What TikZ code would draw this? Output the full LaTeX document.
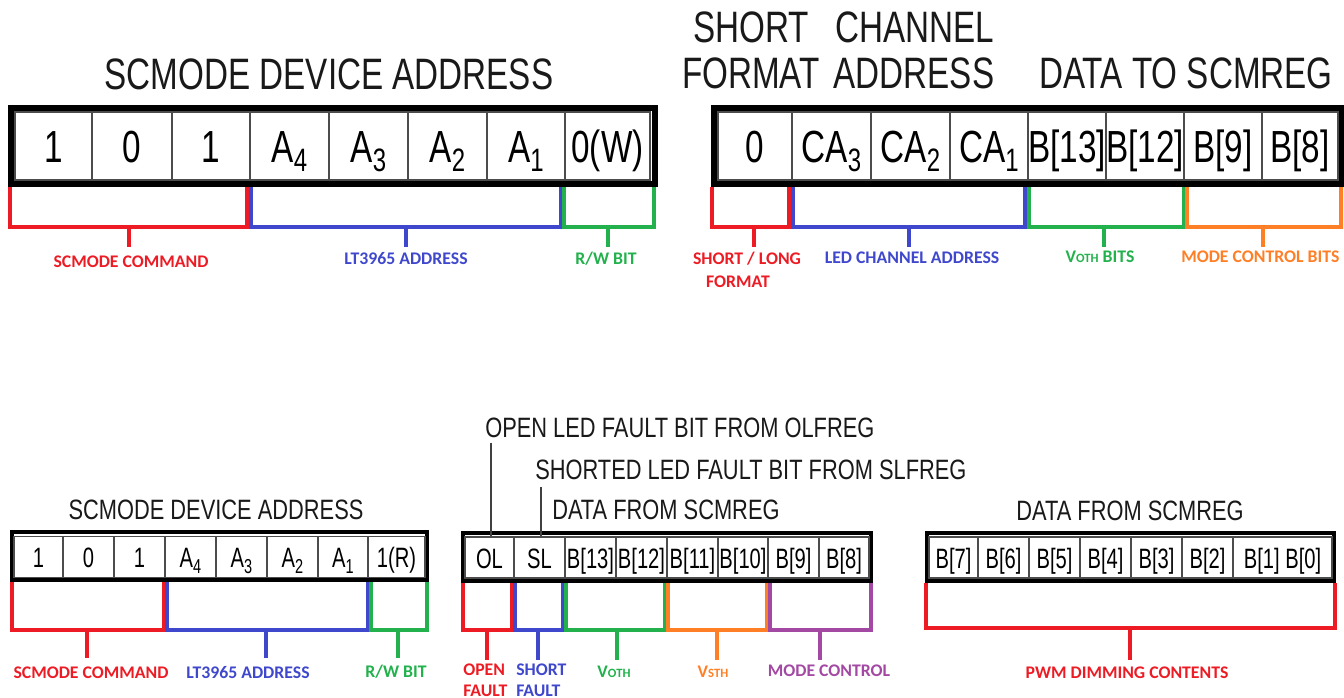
\documentclass[tikz,border=0pt]{standalone}
\usepackage{fontspec}
\usepackage{graphicx}
\newfontfamily\cndT[FakeStretch=0.755]{Liberation Sans}
\newfontfamily\cndB[FakeStretch=0.78]{Liberation Sans}
\newfontfamily\cndC[FakeStretch=0.74]{Liberation Sans}
\newfontfamily\cndD[FakeStretch=0.72]{Liberation Sans}
\newfontfamily\lblfont{Carlito}
\newcommand\lsub[1]{\raisebox{-0.2em}{\scalebox{0.72}{#1}}}
\newcommand\lsmall[1]{{\fontsize{9.5pt}{10pt}\selectfont #1}}
\definecolor{pred}{RGB}{237,28,36}
\definecolor{pblue}{RGB}{63,72,204}
\definecolor{pgreen}{RGB}{34,177,76}
\definecolor{porange}{RGB}{255,127,39}
\definecolor{ppurple}{RGB}{163,73,164}
\newcommand\brk[7]{%
  \draw[#1,brline] (#2,#4) -- (#2,#5) -- (#3,#5) -- (#3,#4);
  \draw[#1,brline] (#6,#5) -- (#6,#7);}
\begin{document}
\begin{tikzpicture}[x=0.75pt,y=-0.75pt,
  bigframe/.style={draw=black,line width=4.5pt},
  smallframe/.style={draw=black,line width=3.4pt},
  bigcell/.style={draw=black!70,line width=0.9pt,inner sep=0pt,minimum height=51pt,text height=25.5pt,text depth=0pt,font=\fontsize{33.75pt}{36pt}\cndC},
  smallcell/.style={draw=black!70,line width=0.8pt,inner sep=0pt,minimum height=30.75pt,text height=15.75pt,text depth=0pt,font=\fontsize{21pt}{23pt}\cndD},
  bigtitle/.style={anchor=base,inner sep=0pt,text=black!90,font=\fontsize{33pt}{35pt}\cndT},
  smalltitle/.style={anchor=base,inner sep=0pt,text=black!90,font=\fontsize{21pt}{23pt}\cndB},
  lbl/.style={anchor=base,inner sep=0pt,font=\fontsize{13.3pt}{15pt}\lblfont\bfseries},
  brline/.style={line width=3pt},
  leader/.style={draw=black!75,line width=0.8pt}]
\useasboundingbox (0,0) rectangle (1344,698);

% ---------- top-left register ----------
\node[bigtitle] (tltitle) at (329,90) {SCMODE DEVICE ADDRESS};
\draw[bigframe] (11,108) rectangle (655,184);
\foreach \l/\r/\txt [count=\i] in {15/92/1,92/172/0,172/250/1,250/329/{A\lsub{4}},329/408/{A\lsub{3}},408/487/{A\lsub{2}},487/565/{A\lsub{1}},565/650/{0(W)}}
  \node[bigcell,minimum width={(\r-\l)*0.75pt}] (tl\i) at ({(\l+\r)/2},146) {\txt};
\brk{pred}{10}{247}{187}{227}{129}{247}
\brk{pblue}{251}{561}{187}{227}{406}{247}
\brk{pgreen}{564}{654}{187}{227}{608}{247}
\node[lbl,pred] (tll1) at (131,268) {SCMODE COMMAND};
\node[lbl,pblue] (tll2) at (406,265) {LT3965 ADDRESS};
\node[lbl,pgreen] (tll3) at (606,265) {R/W BIT};

% ---------- top-right register ----------
\node[bigtitle] (trt1) at (751,43) {SHORT};
\node[bigtitle] (trt2) at (915,43) {CHANNEL};
\node[bigtitle] (trt3) at (751,89) {FORMAT};
\node[bigtitle] (trt4) at (914,89) {ADDRESS};
\node[bigtitle] (trt5) at (1186,89) {DATA TO SCMREG};
\draw[bigframe] (714,108) rectangle (1341,184);
\foreach \l/\r/\txt [count=\i] in {718/792/0,792/871/{CA\lsub{3}},871/950/{CA\lsub{2}},950/1028/{CA\lsub{1}},1028/1106/{B[13]},1106/1184/{B[12]},1184/1262/{B[9]},1262/1338/{B[8]}}
  \node[bigcell,minimum width={(\r-\l)*0.75pt}] (tr\i) at ({(\l+\r)/2},146) {\txt};
\brk{pred}{712}{789}{187}{227}{754}{247}
\brk{pblue}{793}{1025}{187}{227}{909}{247}
\brk{pgreen}{1029}{1184}{187}{227}{1104}{247}
\brk{porange}{1187}{1341}{187}{227}{1263}{247}
\node[lbl,pred] (trl1) at (747,265) {SHORT / LONG};
\node[lbl,pred] (trl1b) at (738,287) {FORMAT};
\node[lbl,pblue] (trl2) at (912,264) {LED CHANNEL ADDRESS};
\node[lbl,pgreen] (trl3) at (1100,263) {V\lsmall{OTH} BITS};
\node[lbl,porange,anchor=base west] (trl4) at (1181,263) {MODE CONTROL BITS};

% ---------- bottom-left register ----------
\node[smalltitle] (bltitle) at (216,519) {SCMODE DEVICE ADDRESS};
\draw[smallframe] (12,532) rectangle (427,580);
\foreach \l/\r/\txt [count=\i] in {14/63/1,63/114/0,114/165/1,165/216/{A\lsub{4}},216/267/{A\lsub{3}},267/318/{A\lsub{2}},318/368/{A\lsub{1}},368/425/{1(R)}}
  \node[smallcell,minimum width={(\r-\l)*0.75pt}] (bl\i) at ({(\l+\r)/2},557) {\txt};
\brk{pred}{12}{164}{582}{630}{87}{658}
\brk{pblue}{167}{368}{582}{630}{266}{658}
\brk{pgreen}{371}{427}{582}{630}{398}{658}
\node[lbl,pred] (bll1) at (91,678) {SCMODE COMMAND};
\node[lbl,pblue] (bll2) at (248,678) {LT3965 ADDRESS};
\node[lbl,pgreen] (bll3) at (396,677) {R/W BIT};

% ---------- bottom-middle register ----------
\node[smalltitle,anchor=base west] (bmt1) at (485,437) {OPEN LED FAULT BIT FROM OLFREG};
\node[smalltitle,anchor=base west] (bmt2) at (535,479) {SHORTED LED FAULT BIT FROM SLFREG};
\node[smalltitle,anchor=base west] (bmt3) at (552,519) {DATA FROM SCMREG};
\draw[smallframe] (463,533) rectangle (871,581);
\foreach \l/\r/\txt [count=\i] in {465/514/OL,514/565/SL,565/616/{B[13]},616/667/{B[12]},667/718/{B[11]},718/768/{B[10]},768/819/{B[9]},819/869/{B[8]}}
  \node[smallcell,minimum width={(\r-\l)*0.75pt}] (bm\i) at ({(\l+\r)/2},557.5) {\txt};
\coordinate (ol1) at (491,443);
\coordinate (sl1) at (541,487);
\draw[leader] (ol1) -- (ol1 |- bm1.north);
\draw[leader] (sl1) -- (sl1 |- bm2.north);
\brk{pred}{463}{512}{583}{630}{487}{660}
\brk{pblue}{515}{563}{583}{630}{538}{660}
\brk{pgreen}{566}{665}{583}{630}{617}{660}
\brk{porange}{668}{767}{583}{630}{717}{660}
\brk{ppurple}{770}{871}{583}{630}{820}{660}
\node[lbl,pred,anchor=base west] (bml1) at (463,675) {OPEN};
\node[lbl,pred,anchor=base west] (bml1b) at (463,696) {FAULT};
\node[lbl,pblue,anchor=base west] (bml2) at (516,675) {SHORT};
\node[lbl,pblue,anchor=base west] (bml2b) at (516,696) {FAULT};
\node[lbl,pgreen] (bml3) at (614,677) {V\lsmall{OTH}};
\node[lbl,porange] (bml4) at (713,677) {V\lsmall{STH}};
\node[lbl,ppurple] (bml5) at (829,676) {MODE CONTROL};

% ---------- bottom-right register ----------
\node[smalltitle] (brtitle) at (1130,520) {DATA FROM SCMREG};
\draw[smallframe] (927,533) rectangle (1334,581);
\foreach \l/\r/\txt [count=\i] in {929/978/{B[7]},978/1029/{B[6]},1029/1080/{B[5]},1080/1131/{B[4]},1131/1182/{B[3]},1182/1233/{B[2]},1233/1332/{B[1] B[0]}}
  \node[smallcell,minimum width={(\r-\l)*0.75pt}] (br\i) at ({(\l+\r)/2},557.5) {\txt};
\brk{pred}{926}{1335}{583}{628}{1130}{660}
\node[lbl,pred] (brl1) at (1127,678) {PWM DIMMING CONTENTS};
\end{tikzpicture}
\end{document}
